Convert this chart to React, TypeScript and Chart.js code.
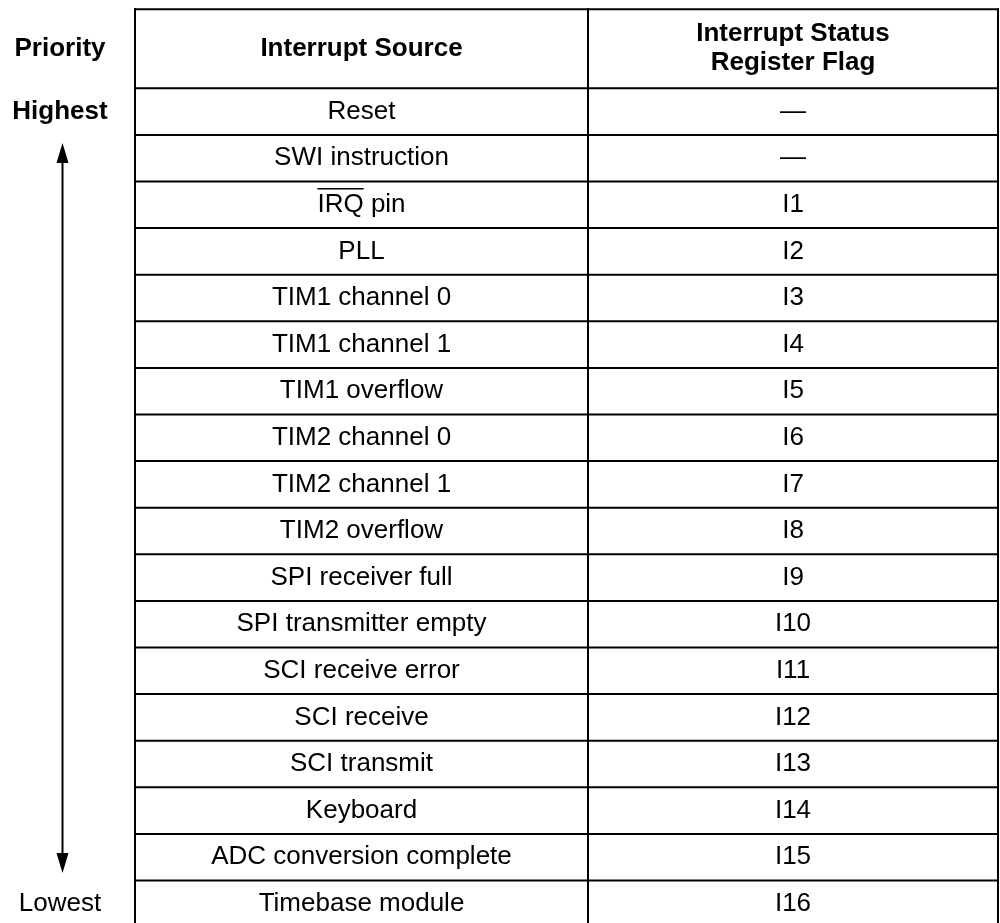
import React, { useEffect, useRef } from "react";
import { Chart, registerables } from "chart.js";

Chart.register(...registerables);

// ---- data ----
const priorityHeader = "Priority";
const sourceHeader = "Interrupt Source";
const flagHeader = ["Interrupt Status", "Register Flag"];
const highestLabel = "Highest";
const lowestLabel = "Lowest";

const sources = [
  "Reset",
  "SWI instruction",
  "IRQ pin",
  "PLL",
  "TIM1 channel 0",
  "TIM1 channel 1",
  "TIM1 overflow",
  "TIM2 channel 0",
  "TIM2 channel 1",
  "TIM2 overflow",
  "SPI receiver full",
  "SPI transmitter empty",
  "SCI receive error",
  "SCI receive",
  "SCI transmit",
  "Keyboard",
  "ADC conversion complete",
  "Timebase module",
];

const flags = [
  "—",
  "—",
  "I1",
  "I2",
  "I3",
  "I4",
  "I5",
  "I6",
  "I7",
  "I8",
  "I9",
  "I10",
  "I11",
  "I12",
  "I13",
  "I14",
  "I15",
  "I16",
];

// text portion drawn with an overline (active-low signal)
const overlinedPrefix: Record<number, string> = { 2: "IRQ" };

// ---- layout (row units on y, canvas-width units on x) ----
const W = 1000;
const H = 923;
const ROW_PX = 46.6;
const HEADER_BOTTOM_PX = 88.3;
const Y_MIN = -HEADER_BOTTOM_PX / ROW_PX;
const Y_MAX = (H - HEADER_BOTTOM_PX) / ROW_PX;
const HEADER_TOP = -(HEADER_BOTTOM_PX - 9.3) / ROW_PX;
const COL_LEFT = 135;
const COL_MID = 588;
const COL_RIGHT = 998;
const PRIORITY_X = 60;
const ARROW_X = 62.5;

const FONT = '"Liberation Sans", Arial, Helvetica, sans-serif';
const FONT_SIZE = 26;

const tablePlugin = {
  id: "tablePlugin",
  afterDraw(chart: any) {
    const ctx: CanvasRenderingContext2D = chart.ctx;
    const xs = chart.scales.x;
    const ys = chart.scales.y;
    const px = (v: number) => xs.getPixelForValue(v);
    const py = (v: number) => ys.getPixelForValue(v);

    ctx.save();
    ctx.fillStyle = "#fff";
    ctx.fillRect(0, 0, chart.width, chart.height);

    // grid lines
    ctx.strokeStyle = "#000";
    ctx.lineWidth = 2;
    ctx.lineCap = "butt";
    const hLine = (yv: number) => {
      ctx.beginPath();
      ctx.moveTo(px(COL_LEFT) - 1, py(yv));
      ctx.lineTo(px(COL_RIGHT) + 1, py(yv));
      ctx.stroke();
    };
    hLine(HEADER_TOP);
    for (let i = 0; i <= sources.length; i++) hLine(i);
    [COL_LEFT, COL_MID, COL_RIGHT].forEach((xv) => {
      ctx.beginPath();
      ctx.moveTo(px(xv), py(HEADER_TOP) - 1);
      ctx.lineTo(px(xv), py(Y_MAX) + 2);
      ctx.stroke();
    });

    // texts
    ctx.fillStyle = "#000";
    ctx.textAlign = "center";
    ctx.textBaseline = "middle";
    const headerMid = py(HEADER_TOP / 2);
    const c1 = px((COL_LEFT + COL_MID) / 2);
    const c2 = px((COL_MID + COL_RIGHT) / 2);

    ctx.font = `bold ${FONT_SIZE}px ${FONT}`;
    ctx.fillText(priorityHeader, px(PRIORITY_X), headerMid);
    ctx.fillText(sourceHeader, c1, headerMid);
    ctx.fillText(flagHeader[0], c2, headerMid - 14.5);
    ctx.fillText(flagHeader[1], c2, headerMid + 14.5);
    ctx.fillText(highestLabel, px(PRIORITY_X), py(0.5));

    ctx.font = `${FONT_SIZE}px ${FONT}`;
    ctx.fillText(lowestLabel, px(PRIORITY_X), py(sources.length - 0.5));

    sources.forEach((s, i) => {
      const yc = py(i + 0.5);
      ctx.fillText(s, c1, yc);
      const pre = overlinedPrefix[i];
      if (pre) {
        const total = ctx.measureText(s).width;
        const preW = ctx.measureText(pre).width;
        const x0 = c1 - total / 2;
        ctx.save();
        ctx.lineWidth = 1.6;
        ctx.beginPath();
        ctx.moveTo(x0, yc - 16);
        ctx.lineTo(x0 + preW, yc - 16);
        ctx.stroke();
        ctx.restore();
      }
    });
    flags.forEach((f, i) => {
      ctx.fillText(f, c2, py(i + 0.5));
    });

    // priority arrow
    const top = (143 - HEADER_BOTTOM_PX) / ROW_PX;
    const topBase = (163 - HEADER_BOTTOM_PX) / ROW_PX;
    const botBase = (853 - HEADER_BOTTOM_PX) / ROW_PX;
    const bot = (873 - HEADER_BOTTOM_PX) / ROW_PX;
    const ax = px(ARROW_X);
    ctx.lineWidth = 2;
    ctx.beginPath();
    ctx.moveTo(ax, py(topBase) - 1);
    ctx.lineTo(ax, py(botBase) + 1);
    ctx.stroke();
    ctx.beginPath();
    ctx.moveTo(ax, py(top));
    ctx.lineTo(ax - 6, py(topBase));
    ctx.lineTo(ax + 6, py(topBase));
    ctx.closePath();
    ctx.fill();
    ctx.beginPath();
    ctx.moveTo(ax, py(bot));
    ctx.lineTo(ax - 6, py(botBase));
    ctx.lineTo(ax + 6, py(botBase));
    ctx.closePath();
    ctx.fill();

    ctx.restore();
  },
};

export default function App() {
  const ref = useRef<HTMLCanvasElement>(null);
  useEffect(() => {
    if (!ref.current) return;
    const chart = new Chart(ref.current, {
      type: "scatter",
      data: {
        datasets: [
          {
            data: sources.map((_, i) => ({ x: (COL_LEFT + COL_MID) / 2, y: i + 0.5 })),
            pointRadius: 0,
            showLine: false,
          },
        ],
      },
      options: {
        responsive: false,
        animation: false,
        layout: { padding: 0 },
        plugins: {
          legend: { display: false },
          tooltip: { enabled: false },
          title: { display: false },
        },
        scales: {
          x: { type: "linear", min: 0, max: W, display: false },
          y: { type: "linear", min: Y_MIN, max: Y_MAX, reverse: true, display: false },
        },
      },
      plugins: [tablePlugin],
    });
    return () => chart.destroy();
  }, []);
  return (
    <div style={{ position: "fixed", left: 0, top: 0, width: W, height: H, background: "#fff" }}>
      <canvas ref={ref} width={W} height={H} style={{ width: W, height: H, display: "block" }} />
    </div>
  );
}
